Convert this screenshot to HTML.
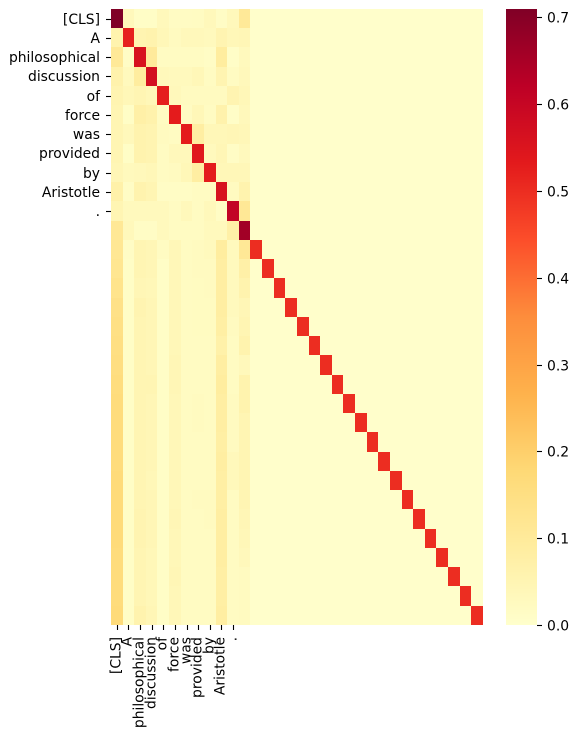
<!DOCTYPE html>
<html>
<head>
<meta charset="utf-8">
<style>
html,body{margin:0;padding:0;background:#fff;width:578px;height:736px;overflow:hidden}
svg{display:block}
text{font-family:"DejaVu Sans","Liberation Sans",sans-serif;font-size:13.9px;fill:#000}
</style>
</head>
<body>
<svg id="chart" width="578" height="736" viewBox="0 0 578 736" xmlns="http://www.w3.org/2000/svg">
<g id="cells" shape-rendering="crispEdges"></g>
<g id="colorbar" shape-rendering="crispEdges"></g>
<g id="ticks"></g>
</svg>
<script>
const tokenLabels = ["[CLS]","A","philosophical","discussion","of","force","was","provided","by","Aristotle","."];
const colorbarTicks = [0.0,0.1,0.2,0.3,0.4,0.5,0.6,0.7];
const gridSize = 32;
const valueMax = 0.7097;
const backgroundValue = 0.003;
const diagonalValues = [0.71,0.52,0.56,0.57,0.525,0.53,0.53,0.54,0.53,0.56,0.61,0.66,0.5,0.5,0.5,0.5,0.5,0.5,0.5,0.5,0.5,0.5,0.5,0.5,0.5,0.5,0.5,0.5,0.5,0.5,0.5,0.5];
const leadingValues = [
[0,.035,.012,.012,.035,.018,.018,.02,.035,.015,.035,.105],
[.06,0,.055,.06,.04,.025,.035,.035,.03,.055,.04,.045],
[.105,.015,0,.1,.02,.02,.02,.02,.015,.09,.01,.03],
[.065,.03,.09,0,.035,.03,.03,.04,.02,.055,.02,.035],
[.055,.04,.05,.04,0,.035,.025,.025,.025,.025,.055,.04],
[.05,.012,.075,.065,.02,0,.02,.04,.02,.065,.01,.035],
[.05,.035,.06,.055,.025,.02,0,.085,.04,.04,.045,.04],
[.05,.012,.06,.055,.02,.035,.035,0,.03,.045,.015,.03],
[.045,.03,.035,.04,.02,.025,.04,.085,0,.04,.04,.04],
[.07,.015,.06,.05,.015,.015,.015,.02,.02,0,.025,.06],
[.05,.03,.03,.03,.03,.02,.035,.02,.035,.015,0,.11],
[.11,.035,.015,.015,.03,.02,.02,.02,.03,.03,.075,0],
[.115,.015,.05,.045,.02,.04,.02,.025,.03,.09,.03,.11],
[.12,.012,.05,.045,.012,.04,.02,.025,.025,.085,.03,.075],
[.13,.012,.045,.04,.012,.04,.02,.022,.025,.085,.03,.06],
[.14,.012,.055,.045,.012,.04,.02,.022,.022,.085,.03,.045],
[.145,.012,.05,.045,.012,.04,.02,.022,.022,.08,.025,.05],
[.15,.012,.05,.045,.012,.04,.02,.02,.02,.07,.02,.06],
[.155,.012,.05,.045,.012,.045,.02,.02,.02,.085,.02,.035],
[.16,.012,.05,.05,.012,.045,.02,.02,.02,.09,.02,.06],
[.165,.012,.05,.045,.012,.04,.02,.025,.02,.085,.025,.06],
[.165,.012,.05,.045,.012,.04,.02,.025,.02,.085,.025,.05],
[.165,.012,.05,.045,.012,.04,.02,.02,.02,.08,.025,.05],
[.165,.012,.05,.045,.012,.04,.02,.02,.02,.085,.035,.05],
[.17,.012,.05,.04,.012,.04,.02,.02,.02,.08,.035,.05],
[.17,.012,.05,.045,.012,.04,.02,.025,.025,.08,.02,.05],
[.17,.012,.055,.045,.012,.045,.02,.02,.025,.085,.02,.045],
[.17,.012,.055,.045,.012,.04,.02,.02,.02,.085,.02,.04],
[.165,.012,.05,.04,.012,.04,.02,.02,.02,.085,.02,.035],
[.165,.012,.05,.04,.012,.045,.02,.02,.02,.08,.02,.025],
[.165,.012,.05,.04,.012,.04,.02,.02,.02,.08,.02,.025],
[.17,.012,.06,.045,.012,.04,.02,.02,.02,.085,.02,.025]
];

const plot = {left:111, top:9, right:483, bottom:625};
const bar = {left:506, right:537, top:9, bottom:625};
const NS = "http://www.w3.org/2000/svg";
const stops = [[255,255,204],[255,237,160],[254,217,118],[254,178,76],[253,141,60],[252,78,42],[227,26,28],[189,0,38],[128,0,38]];

function colorFor(v){
  const t = Math.max(0, Math.min(1, v / valueMax)) * (stops.length - 1);
  const i = Math.min(stops.length - 2, Math.floor(t));
  const f = t - i;
  const c = [0,1,2].map(k => Math.round(stops[i][k] + (stops[i+1][k] - stops[i][k]) * f));
  return "rgb(" + c.join(",") + ")";
}
function xCol(i){ return plot.left + (plot.right - plot.left) * i / gridSize; }
function yRow(i){ return plot.top + (plot.bottom - plot.top) * i / gridSize; }
function yBar(v){ return bar.bottom - (bar.bottom - bar.top) * v / valueMax; }
function snap(p){ return Math.ceil(p - 0.5); }
function valueAt(r, c){
  if (r === c) return diagonalValues[r];
  if (c < leadingValues[r].length) return leadingValues[r][c];
  return backgroundValue;
}
function make(tag, attrs, parent){
  const el = document.createElementNS(NS, tag);
  for (const k in attrs) el.setAttribute(k, attrs[k]);
  parent.appendChild(el);
  return el;
}

const cellsG = document.getElementById("cells");
for (let r = 0; r < gridSize; r++){
  for (let c = 0; c < gridSize; c++){
    const x0 = snap(xCol(c)), x1 = snap(xCol(c + 1));
    const y0 = snap(yRow(r)), y1 = snap(yRow(r + 1));
    const cell = make("rect", {x:x0, y:y0, width:x1 - x0, height:y1 - y0, fill:colorFor(valueAt(r, c))}, cellsG);
    
    
  }
}

const barG = document.getElementById("colorbar");
for (let y = bar.top; y < bar.bottom; y++){
  const v = (bar.bottom - y - 0.5) / (bar.bottom - bar.top) * valueMax;
  const strip = make("rect", {x:bar.left, y:y, width:bar.right - bar.left, height:1, fill:colorFor(v)}, barG);
  
  
}

const ticksG = document.getElementById("ticks");
tokenLabels.forEach((label, i) => {
  const y = Math.round(yRow(i + 0.5)) + 0.5;
  const ty = make("line", {x1:106, x2:111, y1:y, y2:y, stroke:"#000", "stroke-width":1.1}, ticksG);
  
  
  const yl = make("text", {x:100, y:y + 4.5, "text-anchor":"end"}, ticksG);
  yl.textContent = label;
  
  

  const x = Math.round(xCol(i + 0.5)) + 0.5;
  const tx = make("line", {x1:x, x2:x, y1:625, y2:630, stroke:"#000", "stroke-width":1.1}, ticksG);
  
  
  const xl = make("text", {transform:"translate(" + (x + 3) + ",637) rotate(-90)", "text-anchor":"end"}, ticksG);
  xl.textContent = label;
  
  
});

colorbarTicks.forEach(v => {
  const y = Math.round(yBar(v)) + 0.5;
  const t = make("line", {x1:537, x2:542, y1:y, y2:y, stroke:"#000", "stroke-width":1.1}, ticksG);
  
  
  const l = make("text", {x:547, y:y + 5}, ticksG);
  l.textContent = v.toFixed(1);
  
  
});
</script>
</body>
</html>
